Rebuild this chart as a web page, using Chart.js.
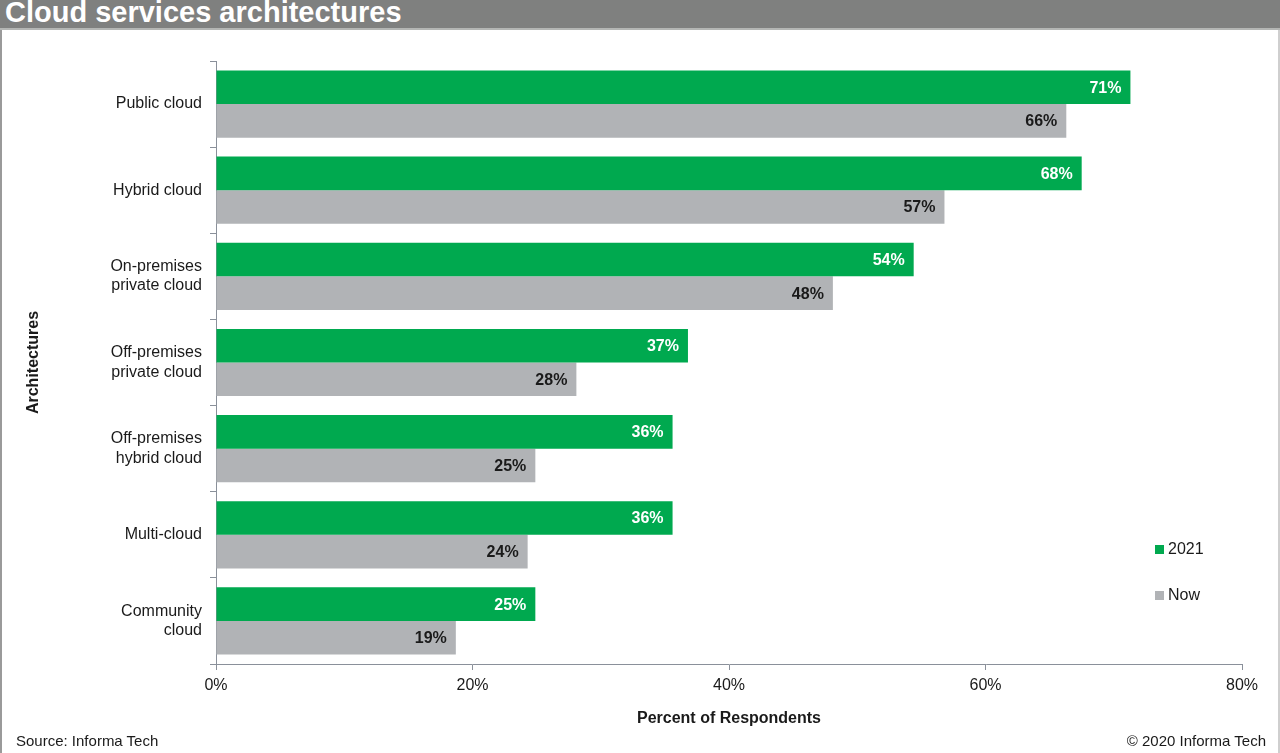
<!DOCTYPE html>
<html>
<head>
<meta charset="utf-8">
<script src="https://cdn.jsdelivr.net/npm/chart.js@4.4.1/dist/chart.umd.min.js"></script>
<style>
  html, body { margin: 0; padding: 0; background: #fff; }
  body { width: 1280px; height: 753px; position: relative; overflow: hidden; font-family: "Liberation Sans", Arial, sans-serif; }
  #titlebar { position: absolute; left: 0; top: 0; width: 1280px; height: 28px; background: #7f807f; border-bottom: 2px solid #b4b6b4; }
  #titlebar span { position: absolute; left: 5px; top: -4px; color: #fff; font-weight: bold; font-size: 29px; }
  #frame { position: absolute; left: 0; top: 30px; width: 1276px; height: 723px; border-left: 2px solid #9a9a9a; border-right: 2px solid #cfcfcf; }
  #wrap { position: absolute; left: 2px; top: 30px; width: 1275px; height: 723px; }
  .foot { position: absolute; top: 732px; font-size: 15px; color: #1a1a1a; }
  #legend { position: absolute; left: 1155px; top: 538px; font-size: 16px; color: #1a1a1a; }
  #legend div { height: 46px; line-height: 22px; }
  #legend i { display: inline-block; width: 9px; height: 9px; margin-right: 4px; }
</style>
</head>
<body>
<div id="titlebar"><span>Cloud services architectures</span></div>
<div id="frame"></div>
<div id="wrap"><canvas id="myChart"></canvas></div>
<div id="legend"></div>
<div class="foot" style="left:16px;">Source: Informa Tech</div>
<div class="foot" style="right:14px;">© 2020 Informa Tech</div>
<script>
const categories = [
    'Public cloud',
    'Hybrid cloud',
    ['On-premises', 'private cloud'],
    ['Off-premises', 'private cloud'],
    ['Off-premises', 'hybrid cloud'],
    'Multi-cloud',
    ['Community', 'cloud']
];
const seriesNames = ['2021', 'Now'];
// labels show the rounded values
const values2021 = [71.3, 67.5, 54.4, 36.8, 35.6, 35.6, 24.9];
const valuesNow = [66.3, 56.8, 48.1, 28.1, 24.9, 24.3, 18.7];
const seriesColors = ['#00a94f', '#b1b3b6'];
const labelColors = ['#ffffff', '#1a1a1a'];

const barLabels = {
    id: 'barLabels',
    afterDatasetsDraw(chart) {
        const ctx = chart.ctx;
        ctx.save();
        ctx.font = 'bold 16px "Liberation Sans", Arial, sans-serif';
        ctx.textAlign = 'right';
        ctx.textBaseline = 'middle';
        chart.data.datasets.forEach((ds, i) => {
            chart.getDatasetMeta(i).data.forEach((bar, j) => {
                ctx.fillStyle = labelColors[i];
                ctx.fillText(Math.round(ds.data[j]) + '%', bar.x - 9, bar.y + 1);
            });
        });
        ctx.restore();
    }
};

Chart.defaults.font.family = '"Liberation Sans", Arial, sans-serif';
Chart.defaults.font.size = 16;
Chart.defaults.color = '#1a1a1a';

const ctx = document.getElementById('myChart').getContext('2d');
const myChart = new Chart(ctx, {
    type: 'bar',
    data: {
        labels: categories,
        datasets: [
            { label: seriesNames[0], data: values2021, backgroundColor: seriesColors[0] },
            { label: seriesNames[1], data: valuesNow, backgroundColor: seriesColors[1] }
        ]
    },
    options: {
        indexAxis: 'y',
        responsive: true,
        maintainAspectRatio: false,
        animation: false,
        categoryPercentage: 0.78,
        barPercentage: 1,
        layout: { padding: { left: 18, top: 31, right: 35, bottom: 21 } },
        plugins: {
            legend: { display: false },
            tooltip: { enabled: false }
        },
        scales: {
            x: {
                min: 0,
                max: 80,
                ticks: { stepSize: 20, padding: 6, callback: v => v + '%' },
                grid: { drawOnChartArea: false, tickLength: 6, color: '#8a909a' },
                border: { color: '#8a909a' },
                title: { display: true, text: 'Percent of Respondents', font: { weight: 'bold', size: 16 }, padding: { top: 4, bottom: 4 } },
                afterFit(scale) { scale.height = 68; }
            },
            y: {
                ticks: { padding: 8, font: { size: 16 } },
                grid: { drawOnChartArea: false, tickLength: 6, color: '#8a909a', offset: true },
                border: { color: '#8a909a' },
                title: { display: true, text: 'Architectures', font: { weight: 'bold', size: 16 }, padding: { top: 4, bottom: 4 } },
                afterFit(scale) { scale.width = 196; }
            }
        }
    },
    plugins: [barLabels]
});

let oLegend = document.getElementById('legend');
myChart.data.datasets.forEach(item => {
    var row = document.createElement('div');
    row.innerHTML = '<i style="background:' + item.backgroundColor + '"></i>' + item.label;
    oLegend.appendChild(row);
});
</script>
</body>
</html>
